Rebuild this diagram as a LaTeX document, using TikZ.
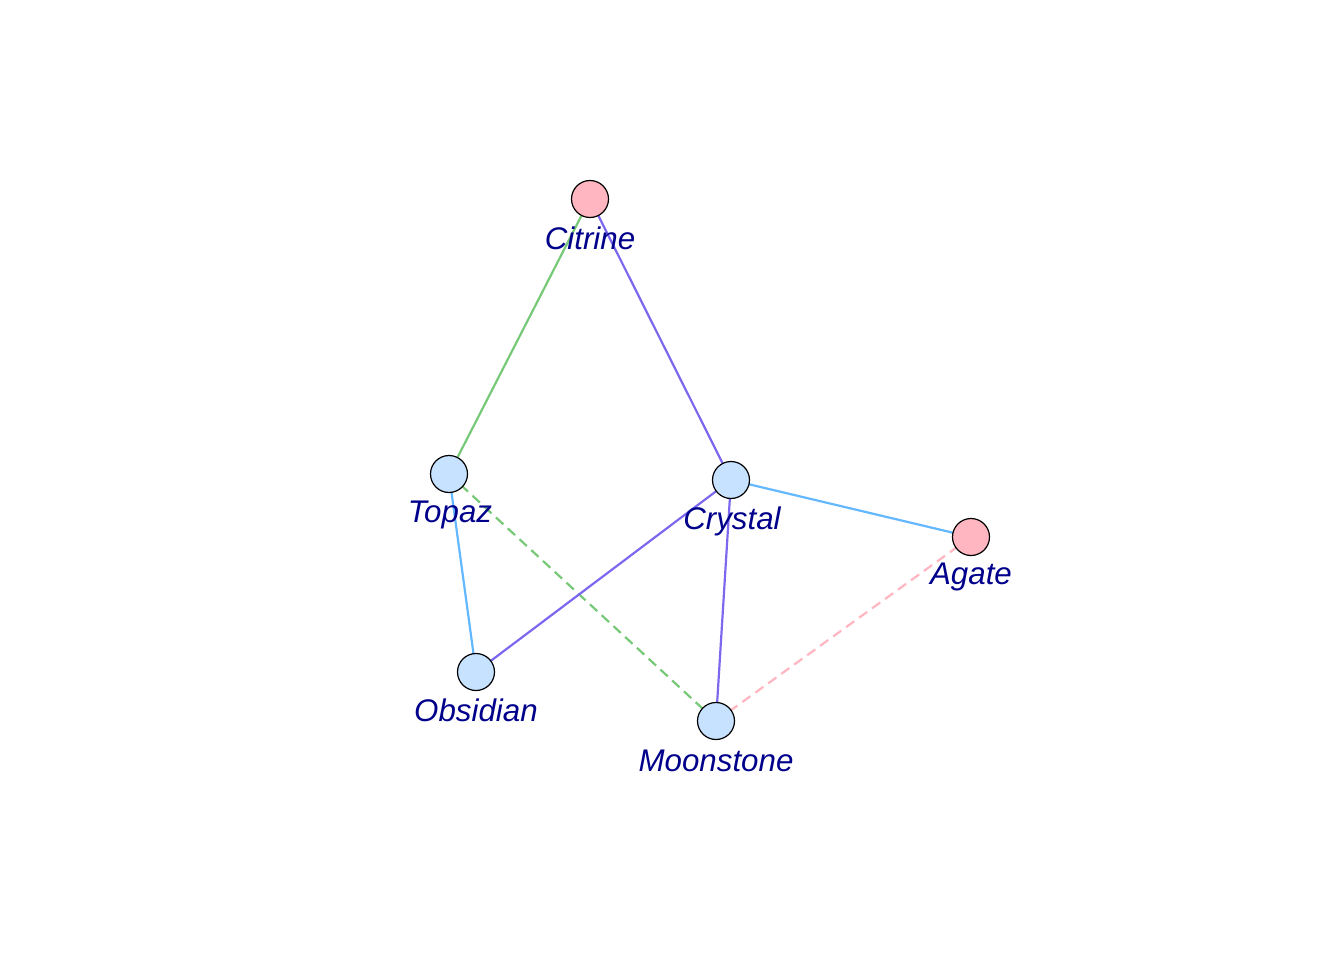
\documentclass[tikz,border=0pt]{standalone}
\usepackage{fontspec}
\setmainfont{Liberation Sans}
\definecolor{egreen}{HTML}{77C877}
\definecolor{epurple}{HTML}{7B68EE}
\definecolor{eblue}{HTML}{63B8FF}
\definecolor{epink}{HTML}{FFB6C1}
\definecolor{nblue}{HTML}{C6E2FF}
\definecolor{npink}{HTML}{FFB6C1}
\definecolor{lab}{HTML}{00008B}
\tikzset{
  vtx/.style={circle,draw=black,line width=1.2pt,minimum size=37pt,inner sep=0pt},
  bluev/.style={vtx,fill=nblue},
  pinkv/.style={vtx,fill=npink},
  lbl/.style={anchor=base,text=lab,font=\fontsize{31.3}{31.3}\selectfont\itshape,inner sep=0pt},
  edge/.style={line width=2.2pt},
  dashedge/.style={line width=2.2pt,dash pattern=on 10pt off 6pt},
}
\begin{document}
\begin{tikzpicture}[x=1pt,y=-1pt]
\useasboundingbox (0,0) rectangle (1344,960);
\coordinate (cC) at (590,199);
\coordinate (cT) at (449,474);
\coordinate (cY) at (731,480);
\coordinate (cA) at (971,537);
\coordinate (cO) at (476,672);
\coordinate (cM) at (716,721);
% edges
\draw[edge,egreen] (cC) -- (cT);
\draw[edge,epurple] (cC) -- (cY);
\draw[edge,eblue] (cT) -- (cO);
\draw[dashedge,egreen] (cT) -- (cM);
\draw[edge,epurple] (cY) -- (cO);
\draw[edge,eblue] (cY) -- (cA);
\draw[edge,epurple] (cY) -- (cM);
\draw[dashedge,epink] (cA) -- (cM);
% nodes
\node[pinkv] (C) at (cC) {};
\node[bluev] (T) at (cT) {};
\node[bluev] (Y) at (cY) {};
\node[pinkv] (A) at (cA) {};
\node[bluev] (O) at (cO) {};
\node[bluev] (M) at (cM) {};
% labels
\node[lbl] (lC) at (590,249) {Citrine};
\node[lbl] (lT) at (450,522) {Topaz};
\node[lbl] (lY) at (732,529) {Crystal};
\node[lbl] (lA) at (971,584) {Agate};
\node[lbl] (lO) at (476,721) {Obsidian};
\node[lbl] (lM) at (716,771) {Moonstone};
\end{tikzpicture}
\end{document}
